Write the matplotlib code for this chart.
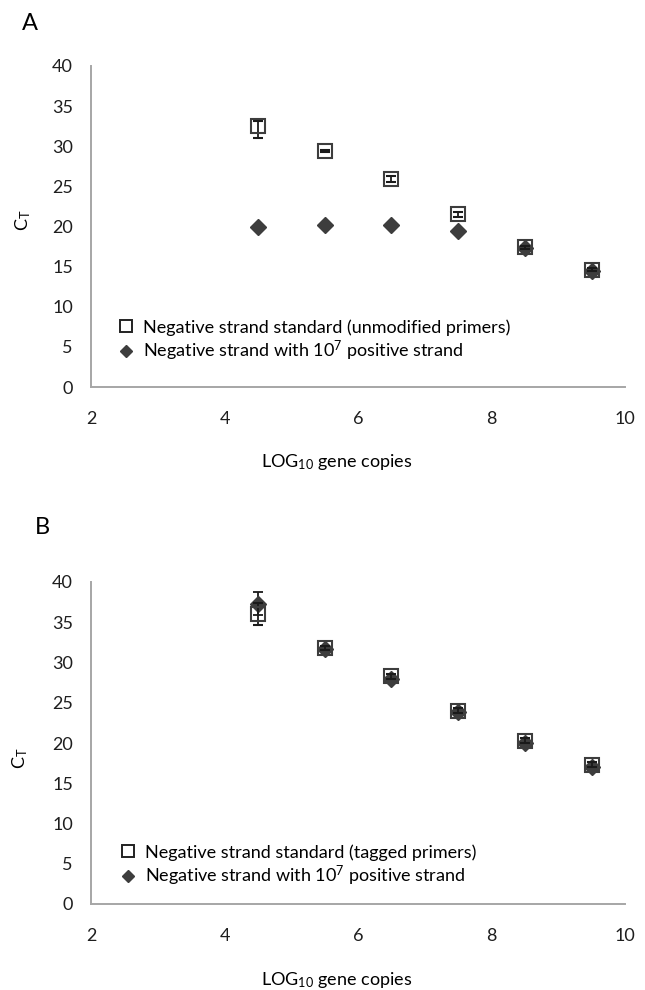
import numpy as np
import matplotlib
matplotlib.use("Agg")
import matplotlib.pyplot as plt
from matplotlib.lines import Line2D

plt.rcParams['font.family'] = ['Lato', 'DejaVu Sans']
plt.rcParams['mathtext.fontset'] = 'custom'
plt.rcParams['mathtext.rm'] = 'Lato'
plt.rcParams['mathtext.it'] = 'Lato:italic'
plt.rcParams['mathtext.bf'] = 'Lato:bold'

# data
log_copies = [4.5, 5.5, 6.5, 7.5, 8.5, 9.5]

# panel A
a_std = [32.5, 29.4, 25.9, 21.5, 17.4, 14.6]
a_std_err_lo = [1.5, 0.15, 0.35, 0.35, 0.2, 0.2]
a_std_err_hi = [0.6, 0.15, 0.35, 0.35, 0.2, 0.2]
a_mix = [19.9, 20.2, 20.15, 19.5, 17.3, 14.5]
a_std_label = "Negative strand standard (unmodified primers)"

# panel B
b_std = [36.0, 31.8, 28.3, 24.0, 20.3, 17.3]
b_std_err = [1.4, 0.3, 0.3, 0.3, 0.3, 0.3]
b_mix = [37.3, 31.7, 27.9, 23.9, 20.0, 17.0]
b_mix_err = [1.4, 0.2, 0.2, 0.2, 0.2, 0.2]
b_std_label = "Negative strand standard (tagged primers)"

mix_label = r"Negative strand with 10$^{7}$ positive strand"

W, H = 645, 990
fig = plt.figure(figsize=(W / 100, H / 100), dpi=100)

mk_col = '#3d3d3d'
fs = 13


def setup(ax):
    ax.set_xlim(2, 10)
    ax.set_ylim(0, 40)
    ax.set_xticks([2, 4, 6, 8, 10])
    ax.set_yticks(range(0, 41, 5))
    for s in ['top', 'right']:
        ax.spines[s].set_visible(False)
    for s in ['left', 'bottom']:
        ax.spines[s].set_color('#a6a6a6')
        ax.spines[s].set_linewidth(1.4)
    ax.tick_params(axis='x', length=0, pad=17, labelsize=fs, colors='#1e1e1e')
    ax.tick_params(axis='y', length=0, pad=13, labelsize=fs, colors='#1e1e1e')


def draw(ax, std, std_err, mix, mix_err, std_label, leg_xy):
    ax.errorbar(log_copies, mix, yerr=mix_err, fmt='D', ms=7.8, color=mk_col,
                mec=mk_col, ecolor='#1a1a1a', elinewidth=1.3, capsize=3.3,
                capthick=1.3, zorder=3)
    ax.errorbar(log_copies, std, yerr=std_err, fmt='s', ms=10, mfc='none',
                mec=mk_col, mew=1.5, ecolor='#1a1a1a', elinewidth=1.3,
                capsize=3.3, capthick=1.3, zorder=4)
    handles = [Line2D([], [], ls='none', marker='s', ms=9, mfc='none', mec='#222222', mew=1.4),
               Line2D([], [], ls='none', marker='D', ms=6.5, color=mk_col)]
    ax.legend(handles, [std_label, mix_label], loc='upper left',
              bbox_to_anchor=(leg_xy[0] / W, 1 - leg_xy[1] / H),
              bbox_transform=fig.transFigure, frameon=False, fontsize=fs,
              borderpad=0, borderaxespad=0, handlelength=0.9,
              handletextpad=0.5, labelspacing=0.2)


axA = fig.add_axes([91 / W, 1 - 387 / H, 534 / W, 321 / H])
setup(axA)
draw(axA, a_std, [a_std_err_lo, a_std_err_hi], a_mix, None, a_std_label, (118, 319))

axB = fig.add_axes([91 / W, 1 - 904 / H, 534 / W, 322 / H])
setup(axB)
draw(axB, b_std, b_std_err, b_mix, b_mix_err, b_std_label, (120, 844))

# panel letters, axis titles
fig.text(30 / W, 1 - 23 / H, 'A', fontsize=17, ha='center', va='center')
fig.text(42 / W, 1 - 527 / H, 'B', fontsize=17, ha='center', va='center')
fig.text(23 / W, 1 - 220 / H, r'C$_\mathrm{T}$', fontsize=fs, rotation=90, ha='center', va='center')
fig.text(20 / W, 1 - 758 / H, r'C$_\mathrm{T}$', fontsize=fs, rotation=90, ha='center', va='center')
fig.text(337 / W, 1 - 462 / H, r'LOG$_\mathrm{10}$ gene copies', fontsize=fs, ha='center', va='center')
fig.text(337 / W, 1 - 980 / H, r'LOG$_\mathrm{10}$ gene copies', fontsize=fs, ha='center', va='center')

fig.savefig('out.png', dpi=100)
